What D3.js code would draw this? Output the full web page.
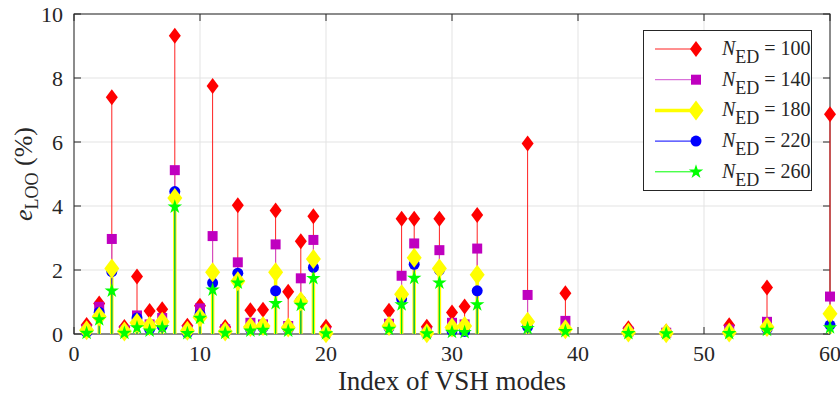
<!DOCTYPE html>
<html>
<head>
<meta charset="utf-8">
<script src="https://cdn.jsdelivr.net/npm/d3@7"></script>
<style>
  body { margin: 0; background: #fff; }
  svg text { font-family: "Liberation Serif", "Times New Roman", serif; fill: #262626; }
</style>
</head>
<body>
<script>
// mode index (x) and e_LOO (%) for each N_ED
const modeIdx = [1,2,3,4,5,6,7,8,9,10,11,12,13,14,15,16,17,18,19,20,25,26,27,28,29,30,31,32,36,39,44,47,52,55,60];
const n100 = [0.28,0.95,7.4,0.22,1.8,0.72,0.77,9.32,0.26,0.88,7.75,0.22,4.02,0.74,0.76,3.86,1.32,2.9,3.68,0.23,0.73,3.6,3.6,0.23,3.6,0.67,0.86,3.72,5.95,1.27,0.18,0.08,0.27,1.45,6.87];
const n140 = [0.15,0.85,2.97,0.12,0.58,0.3,0.5,5.12,0.12,0.8,3.06,0.15,2.24,0.35,0.3,2.8,0.25,1.74,2.94,0.05,0.32,1.82,2.83,0.05,2.62,0.35,0.3,2.67,1.22,0.41,0.08,0.04,0.14,0.38,1.17];
const n180 = [0.12,0.55,2.05,0.08,0.35,0.25,0.38,4.25,0.1,0.52,1.93,0.08,1.65,0.22,0.25,1.93,0.2,1.02,2.34,0.02,0.25,1.24,2.38,0.02,2.05,0.2,0.25,1.85,0.38,0.15,0.05,0.02,0.05,0.22,0.63];
const n220 = [0.05,0.68,1.95,0.05,0.5,0.15,0.25,4.45,0.03,0.62,1.6,0.05,1.9,0.15,0.2,1.35,0.15,1.05,2.08,0.02,0.2,1.1,2.18,0.01,2.0,0.1,0.08,1.35,0.22,0.12,0.03,0.02,0.03,0.15,0.28];
const n260 = [0.03,0.45,1.35,0.03,0.2,0.1,0.2,3.97,0.02,0.5,1.38,0.03,1.6,0.1,0.12,0.96,0.1,0.9,1.74,0.01,0.15,0.92,1.75,0.01,1.6,0.06,0.05,0.92,0.18,0.08,0.02,0.01,0.02,0.12,0.2];
const nedLabels = ["100", "140", "180", "220", "260"];
const xTicks = [0, 10, 20, 30, 40, 50, 60];
const yTicks = [0, 2, 4, 6, 8, 10];

const W = 840, H = 399;
const m = { left: 74, right: 10, top: 14, bottom: 65 };
const serif = "'Liberation Serif', 'Times New Roman', serif";

const svg = d3.select("body").append("svg").attr("width", W).attr("height", H);

const x = d3.scaleLinear().domain([0, 60]).range([m.left, W - m.right]);
const y = d3.scaleLinear().domain([0, 10]).range([H - m.bottom, m.top]);

// diamond path, w wide and h tall
function diamond(w, h) {
  return `M0,${-h / 2}L${w / 2},0L0,${h / 2}L${-w / 2},0Z`;
}

const series = [
  { vals: n100, line: "#ff2020", lw: 1, fill: "#ff0000", mark: diamond(12, 16) },
  { vals: n140, line: "#d050d0", lw: 1, fill: "#bf00bf", mark: "M-5,-5H5V5H-5Z" },
  { vals: n180, line: "#ffff00", lw: 3.5, fill: "#ffff00", mark: diamond(15, 20) },
  { vals: n220, line: "#0000ff", lw: 1, fill: "#0000ff", mark: d3.symbol(d3.symbolCircle, 95)() },
  { vals: n260, line: "#00ff00", lw: 1, fill: "#00ff00", mark: d3.symbol(d3.symbolStar, 65)() }
];

// grid
const grid = svg.append("g");
grid.selectAll(".gx").data(xTicks).join("line")
  .attr("x1", d => x(d)).attr("x2", d => x(d))
  .attr("y1", y(0)).attr("y2", y(10))
  .attr("stroke", "#e3e3e3").attr("stroke-width", 1);
grid.selectAll(".gy").data(yTicks).join("line")
  .attr("x1", x(0)).attr("x2", x(60))
  .attr("y1", d => y(d)).attr("y2", d => y(d))
  .attr("stroke", "#e3e3e3").attr("stroke-width", 1);

// axes box with inward ticks
const axG = svg.append("g").attr("fill", "none").attr("stroke", "#262626").attr("stroke-width", 1);
axG.append("rect")
  .attr("x", x(0)).attr("y", y(10))
  .attr("width", x(60) - x(0)).attr("height", y(0) - y(10));
const tl = 7;
xTicks.forEach(t => {
  axG.append("line").attr("x1", x(t)).attr("x2", x(t)).attr("y1", y(0)).attr("y2", y(0) - tl);
  axG.append("line").attr("x1", x(t)).attr("x2", x(t)).attr("y1", y(10)).attr("y2", y(10) + tl);
});
yTicks.forEach(t => {
  axG.append("line").attr("x1", x(0)).attr("x2", x(0) + tl).attr("y1", y(t)).attr("y2", y(t));
  axG.append("line").attr("x1", x(60)).attr("x2", x(60) - tl).attr("y1", y(t)).attr("y2", y(t));
});

svg.selectAll(".xl").data(xTicks).join("text")
  .attr("x", d => x(d)).attr("y", y(0) + 27)
  .attr("text-anchor", "middle").attr("font-size", "22px").attr("font-family", serif)
  .text(d => d);
svg.selectAll(".yl").data(yTicks).join("text")
  .attr("x", x(0) - 11).attr("y", d => y(d) + 8)
  .attr("text-anchor", "end").attr("font-size", "22px").attr("font-family", serif)
  .text(d => d);

svg.append("text")
  .attr("x", (x(0) + x(60)) / 2).attr("y", y(0) + 56)
  .attr("text-anchor", "middle").attr("font-size", "27px").attr("font-family", serif)
  .text("Index of VSH modes");

const yLab = svg.append("text")
  .attr("transform", `translate(32,${(y(0) + y(10)) / 2}) rotate(-90)`)
  .attr("text-anchor", "middle").attr("font-size", "26px").attr("font-family", serif);
yLab.append("tspan").attr("font-style", "italic").text("e");
yLab.append("tspan").attr("font-size", "18px").attr("dy", 6).text("LOO");
yLab.append("tspan").attr("dy", -6).text(" (%)");

// stems
const plot = svg.append("g");
series.forEach(s => {
  plot.append("g").selectAll("line").data(modeIdx).join("line")
    .attr("x1", d => x(d)).attr("x2", d => x(d))
    .attr("y1", y(0)).attr("y2", (d, i) => y(s.vals[i]))
    .attr("stroke", s.line).attr("stroke-width", s.lw);
});
// markers (yellow over blue)
[0, 1, 3, 2, 4].forEach(k => {
  const s = series[k];
  plot.append("g").selectAll("path").data(modeIdx).join("path")
    .attr("transform", (d, i) => `translate(${x(d)},${y(s.vals[i])})`)
    .attr("d", s.mark).attr("fill", s.fill);
});

// legend
const lg = svg.append("g");
lg.append("rect").attr("x", 643.5).attr("y", 30.5).attr("width", 168).attr("height", 160)
  .attr("fill", "#fff").attr("stroke", "#262626").attr("stroke-width", 1);
series.forEach((s, k) => {
  const ly = 49 + k * 30.7;
  lg.append("line").attr("x1", 655).attr("x2", 696).attr("y1", ly).attr("y2", ly)
    .attr("stroke", s.line).attr("stroke-width", s.lw);
  lg.append("path").attr("transform", `translate(696,${ly})`).attr("d", s.mark).attr("fill", s.fill);
  const t = lg.append("text").attr("x", 722).attr("y", ly + 6)
    .attr("font-size", "20px").attr("font-family", serif);
  t.append("tspan").attr("font-style", "italic").text("N");
  t.append("tspan").attr("font-size", "18px").attr("dy", 8).text("ED");
  t.append("tspan").attr("dy", -8).text(" = " + nedLabels[k]);
});
</script>
</body>
</html>
